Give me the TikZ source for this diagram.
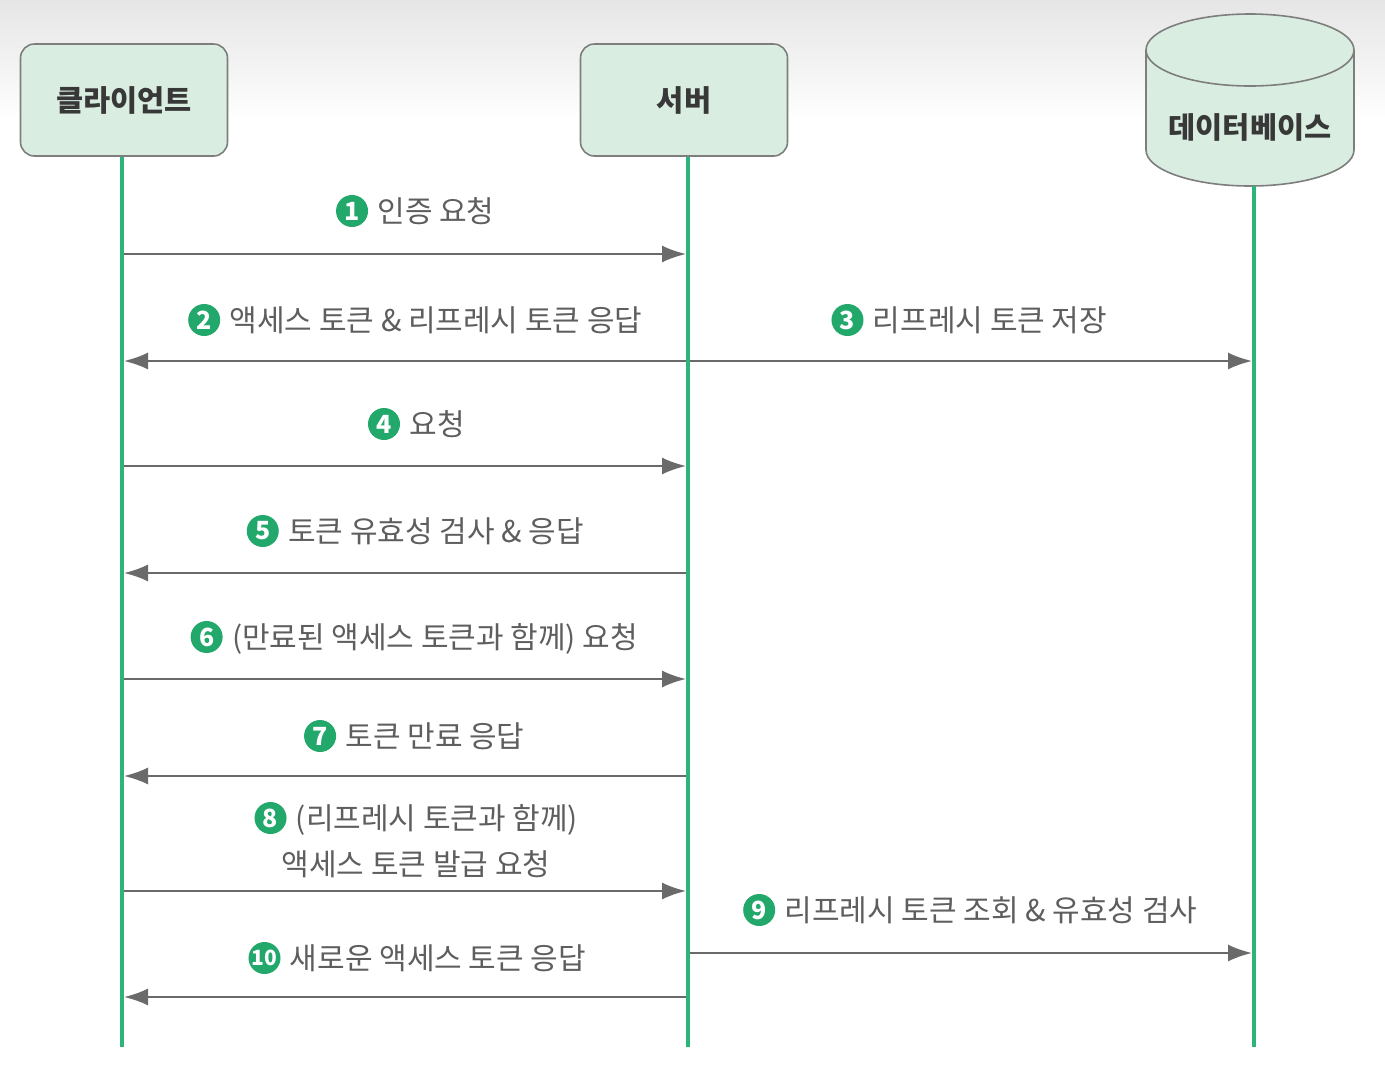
\documentclass[tikz,border=0pt]{standalone}
\usepackage{fontspec}
\setmainfont{Noto Sans CJK KR}
\usetikzlibrary{arrows.meta,positioning}
\definecolor{boxfill}{HTML}{D9EEE1}
\definecolor{boxline}{HTML}{7E7E7E}
\definecolor{life}{HTML}{2DB47B}
\definecolor{arrowc}{HTML}{6A6A6A}
\definecolor{txt}{HTML}{5E5E5E}
\definecolor{numc}{HTML}{22A86A}
\begin{document}
\begin{tikzpicture}[x=1pt,y=-1pt,
 actor/.style={draw=boxline,line width=1.6pt,fill=boxfill,rounded corners=14pt,minimum width=207pt,minimum height=112pt,font=\fontsize{29.5}{32}\selectfont\bfseries,text=black!78},
 dbtext/.style={font=\fontsize{29.5}{32}\selectfont\bfseries,text=black!78,inner sep=0pt},
 lifeline/.style={draw=life,line width=3.6pt},
 msg/.style={draw=arrowc,line width=2pt,-{Latex[length=24pt,width=17pt]}},
 lbl/.style={font=\fontsize{30}{34}\selectfont,text=txt,inner sep=0pt,text height=25pt,text depth=2pt},
 numb/.style={circle,fill=numc,text=white,font=\fontsize{25}{25}\selectfont\bfseries,inner sep=0pt,minimum size=32pt},
]
\useasboundingbox (0,0) rectangle (1385,1077);
\fill[white] (0,0) rectangle (1385,1077);
\shade[top color=black!10,bottom color=white] (0,0) rectangle (1385,120);

% actors
\node[actor] (client) at (124,100) {클라이언트};
\node[actor] (server) at (684,100) {서버};
\fill[boxfill] (1146,50) -- (1146,150) arc[start angle=180,end angle=0,x radius=104,y radius=36] -- (1354,50) -- cycle;
\draw[boxline,line width=1.6pt] (1146,50) -- (1146,150) arc[start angle=180,end angle=0,x radius=104,y radius=36] -- (1354,50);
\draw[boxline,line width=1.6pt,fill=boxfill] (1250,50) ellipse[x radius=104,y radius=36];
\node[dbtext] (db) at (1250,127) {데이터베이스};

% lifelines
\coordinate (ctop) at (122,157);
\coordinate (stop) at (688,157);
\coordinate (dtop) at (1254,186);
\coordinate (cend) at (122,1047);
\coordinate (send) at (688,1047);
\coordinate (dend) at (1254,1047);
\draw[lifeline] (ctop) -- (cend);
\draw[lifeline] (stop) -- (send);
\draw[lifeline] (dtop) -- (dend);

% message end points
\foreach \i/\y in {1/254,2/361,4/466,5/573,6/679,7/776,8/891,10/997}{
  \coordinate (c\i) at (124,\y);
  \coordinate (s\i) at (686,\y);
}
\coordinate (s3) at (690,361);
\coordinate (d3) at (1252,361);
\coordinate (s9) at (690,953);
\coordinate (d9) at (1252,953);

% messages
\draw[msg] (c1) -- (s1);
\draw[msg] (s2) -- (c2);
\draw[msg] (s3) -- (d3);
\draw[msg] (c4) -- (s4);
\draw[msg] (s5) -- (c5);
\draw[msg] (c6) -- (s6);
\draw[msg] (s7) -- (c7);
\draw[msg] (c8) -- (s8);
\draw[msg] (s9) -- (d9);
\draw[msg] (s10) -- (c10);

% labels
\node[lbl] (l1) at (436,211) {인증 요청};
\node[numb,left=9pt of l1] (n1) {1};
\node[lbl] (l2) at (436,320) {액세스 토큰 \& 리프레시 토큰 응답};
\node[numb,left=9pt of l2] (n2) {2};
\node[lbl] (l3) at (990,320) {리프레시 토큰 저장};
\node[numb,left=9pt of l3] (n3) {3};
\node[lbl] (l4) at (437,424) {요청};
\node[numb,left=9pt of l4] (n4) {4};
\node[lbl] (l5) at (436,531) {토큰 유효성 검사 \& 응답};
\node[numb,left=9pt of l5] (n5) {5};
\node[lbl] (l6) at (435,637) {(만료된 액세스 토큰과 함께) 요청};
\node[numb,left=9pt of l6] (n6) {6};
\node[lbl] (l7) at (435,736) {토큰 만료 응답};
\node[numb,left=9pt of l7] (n7) {7};
\node[lbl] (l8) at (437,818) {(리프레시 토큰과 함께)};
\node[numb,left=9pt of l8] (n8) {8};
\node[lbl] (l8b) at (416,864) {액세스 토큰 발급 요청};
\node[lbl] (l9) at (991,910) {리프레시 토큰 조회 \& 유효성 검사};
\node[numb,left=9pt of l9] (n9) {9};
\node[lbl] (l10) at (438,958) {새로운 액세스 토큰 응답};
\node[numb,left=9pt of l10,font=\fontsize{21}{21}\selectfont\bfseries] (n10) {10};
\end{tikzpicture}
\end{document}
